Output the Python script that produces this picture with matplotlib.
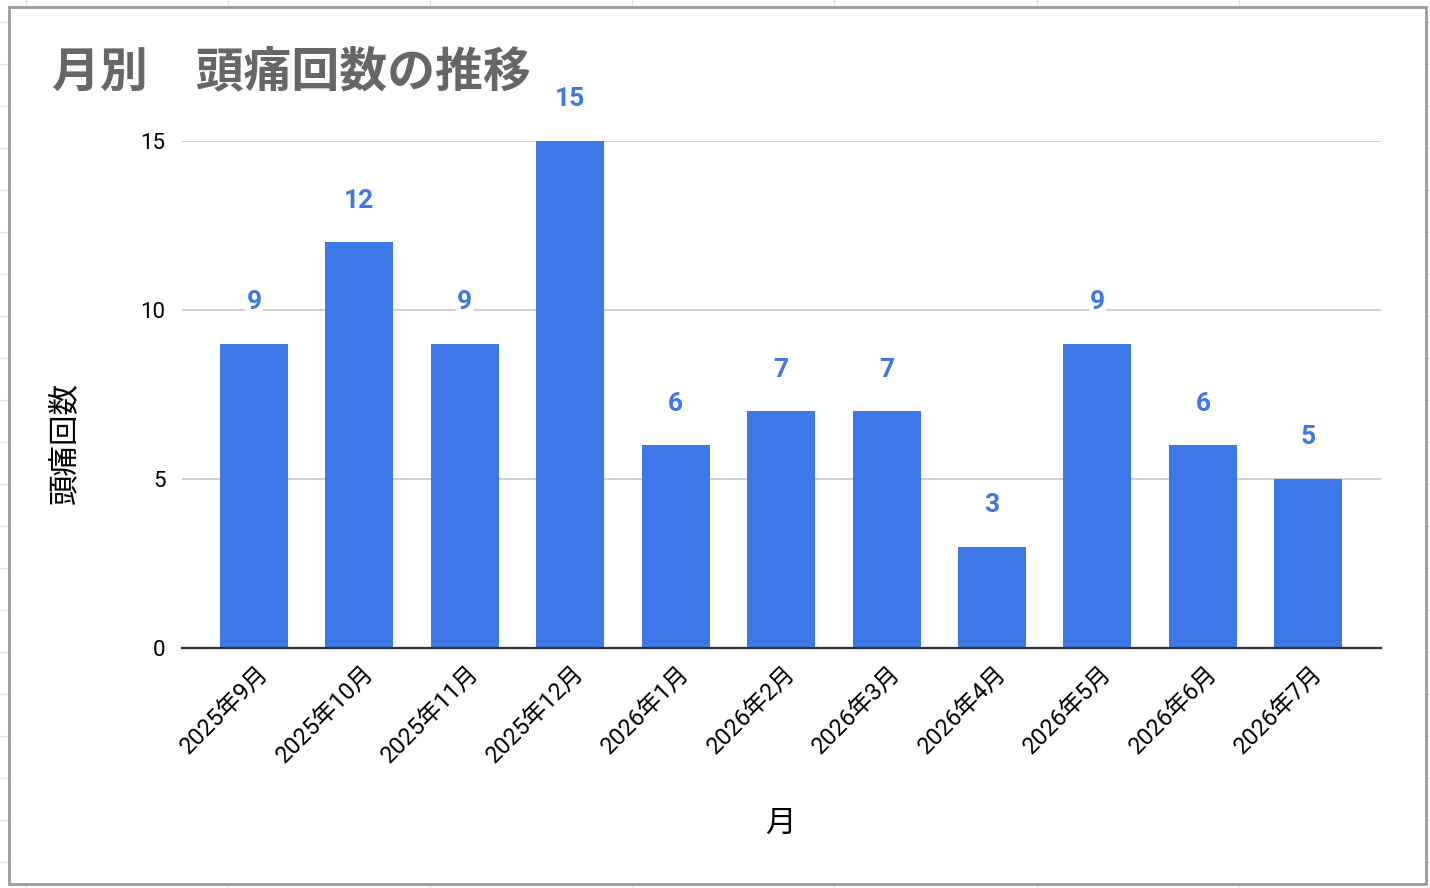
import matplotlib
matplotlib.use("Agg")
import matplotlib.pyplot as plt
from matplotlib.lines import Line2D
from matplotlib.patches import Rectangle
import matplotlib.transforms as mtransforms

plt.rcParams['font.family'] = ['Roboto', 'Noto Sans CJK JP', 'DejaVu Sans']

# データ
months = ['2025年9月', '2025年10月', '2025年11月', '2025年12月', '2026年1月',
          '2026年2月', '2026年3月', '2026年4月', '2026年5月', '2026年6月', '2026年7月']
counts = [9, 12, 9, 15, 6, 7, 7, 3, 9, 6, 5]
yticks = [0, 5, 10, 15]

bar_color = '#3c78e8'
W, H = 1430, 888

fig = plt.figure(figsize=(W / 100, H / 100), dpi=100)

# 背景のスプレッドシート罫線 + グラフ枠
for gx in [26, 228, 430, 632, 834, 1037, 1239]:
    fig.add_artist(Line2D([gx / W, gx / W], [0, 1], color='#e2e2e2', lw=1, zorder=-2))
for k in range(22):
    gy = 22 + 42 * k
    fig.add_artist(Line2D([0, 1], [1 - gy / H, 1 - gy / H], color='#e2e2e2', lw=1, zorder=-2))
fig.add_artist(Rectangle((9 / W, 1 - 884 / H), (1426 - 9) / W, (884 - 7) / H,
                         facecolor='white', edgecolor='#9a9a9a', lw=2, zorder=-1))

ax = fig.add_axes([182 / W, 1 - 648 / H, 1199 / W, 507 / H])
ax.set_facecolor('none')
x = list(range(len(months)))
ax.bar(x, counts, width=0.645, color=bar_color, zorder=2)

for xi, v in zip(x, counts):
    ax.annotate(str(v), (xi, v), xytext=(0, 30), textcoords='offset points',
                ha='center', va='center', fontsize=19, fontweight='bold',
                color=bar_color, annotation_clip=False,
                bbox=dict(facecolor='white', edgecolor='none', pad=1), zorder=3)

ax.set_xlim(-0.683, len(months) - 1 + 0.69)
ax.set_ylim(0, 15)
ax.set_yticks(yticks)
ax.tick_params(axis='y', length=0, pad=12, labelsize=16)
ax.tick_params(axis='x', length=0, pad=6, labelsize=17)
ax.yaxis.grid(True, color='#c8c8c8', lw=1.2, zorder=1)
ax.set_axisbelow(True)
for s in ['top', 'right', 'left']:
    ax.spines[s].set_visible(False)
ax.spines['bottom'].set_color('#333333')
ax.spines['bottom'].set_linewidth(1.6)
ax.spines['bottom'].set_zorder(4)

ax.set_xticks(x)
ax.set_xticklabels(months, rotation=45, ha='right', va='center', rotation_mode='anchor')
offset = mtransforms.ScaledTranslation(11 / 100, -14 / 100, fig.dpi_scale_trans)
for lab in ax.get_xticklabels():
    lab.set_transform(lab.get_transform() + offset)

ax.set_ylabel('頭痛回数', fontsize=22, family=['Noto Sans CJK JP'])
ax.yaxis.set_label_coords((80 - 182) / 1199, (648 - 443) / 507)
ax.set_xlabel('月', fontsize=22, family=['Noto Sans CJK JP'])
ax.xaxis.set_label_coords((780 - 182) / 1199, (648 - 808) / 507)

fig.text(52 / W, 1 - 72 / H, '月別　頭痛回数の推移', fontsize=34.5, fontweight='bold',
         color='#666666', ha='left', va='center', family=['Noto Sans CJK JP'])

fig.savefig('out.png', dpi=100)
